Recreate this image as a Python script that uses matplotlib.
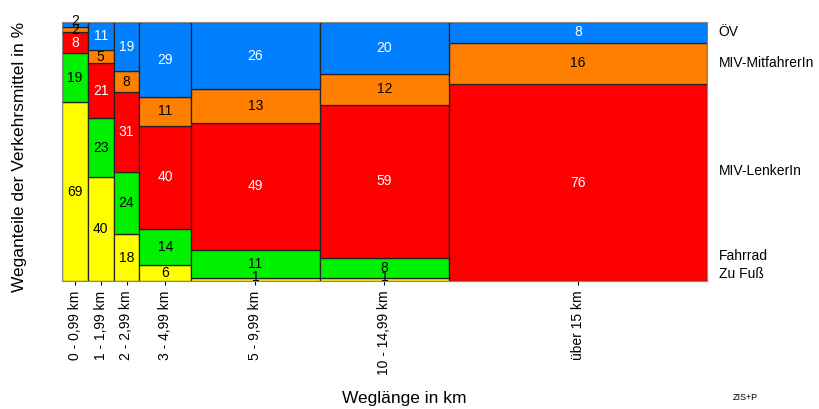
import numpy as np
import matplotlib
matplotlib.use("Agg")
import matplotlib.pyplot as plt

plt.rcParams['font.family'] = ['Liberation Sans', 'DejaVu Sans']

# distance classes and their widths (km span, "über 15" capped at 10)
classes = ["0 - 0,99 km", "1 - 1,99 km", "2 - 2,99 km", "3 - 4,99 km",
           "5 - 9,99 km", "10 - 14,99 km", "über 15 km"]
widths = [1, 1, 1, 2, 5, 5, 10]

modes = ["Zu Fuß", "Fahrrad", "MIV-LenkerIn", "MIV-MitfahrerIn", "ÖV"]
zu_fuss = [69, 40, 18, 6, 1, 1, 0]
fahrrad = [19, 23, 24, 14, 11, 8, 0]
miv_lenker = [8, 21, 31, 40, 49, 59, 76]
miv_mitfahrer = [2, 5, 8, 11, 13, 12, 16]
oev = [2, 11, 19, 29, 26, 20, 8]

colors = ["#FFFF00", "#00F000", "#FF0000", "#FF8000", "#0080FF"]
text_colors = ["black", "black", "white", "black", "white"]
label_y = [2.7, 9.7, 42.5, 84, 96]   # positions of the mode names on the right

fig = plt.figure(figsize=(8.2, 4.09), dpi=100)
ax = fig.add_axes([62/820, 1-281/409, 645/820, 259/409])

series = [zu_fuss, fahrrad, miv_lenker, miv_mitfahrer, oev]
lefts = np.concatenate([[0], np.cumsum(widths)[:-1]])
bottom = np.zeros(len(classes))
for vals, col, tc in zip(series, colors, text_colors):
    vals = np.array(vals, dtype=float)
    ax.bar(lefts, vals, width=widths, bottom=bottom, align='edge',
           color=col, edgecolor="#222222", linewidth=0.9)
    for xl, w, b, v in zip(lefts, widths, bottom, vals):
        if v <= 0:
            continue
        y = b + v/2
        c = tc
        if v < 3:
            c = "black"
            if b + v >= 100:      # tiny top segment: label sits on the top edge
                y = 100.5
            elif b == 0:          # tiny bottom segment: nudge up a bit
                y = b + v/2 + 1.2
        ax.text(xl + w/2, y, f"{int(v)}", ha='center', va='center',
                fontsize=10, color=c, clip_on=False)
    bottom += vals

ax.set_xlim(0, sum(widths))
ax.set_ylim(0, 100)
ax.set_xticks(lefts + np.array(widths)/2)
ax.set_xticklabels(classes, rotation=90, va='top', fontsize=10)
ax.tick_params(axis='x', length=3, pad=4)
ax.set_yticks([])
for s in ax.spines.values():
    s.set_color("#888888")
    s.set_linewidth(0.8)

for name, y in zip(modes, label_y):
    ax.text(1.018, y/100, name, transform=ax.transAxes, ha='left',
            va='center', fontsize=10)

fig.text(20/820, 1-157/409, "Weganteile der Verkehrsmittel in %",
         rotation=90, ha='center', va='center', fontsize=12.5)
fig.text(404/820, 1-399/409, "Weglänge in km", ha='center', va='center',
         fontsize=12.5)
fig.text(745/820, 1-398/409, "ZIS+P", ha='center', va='center', fontsize=6.5)

fig.savefig("out.png", dpi=100)
